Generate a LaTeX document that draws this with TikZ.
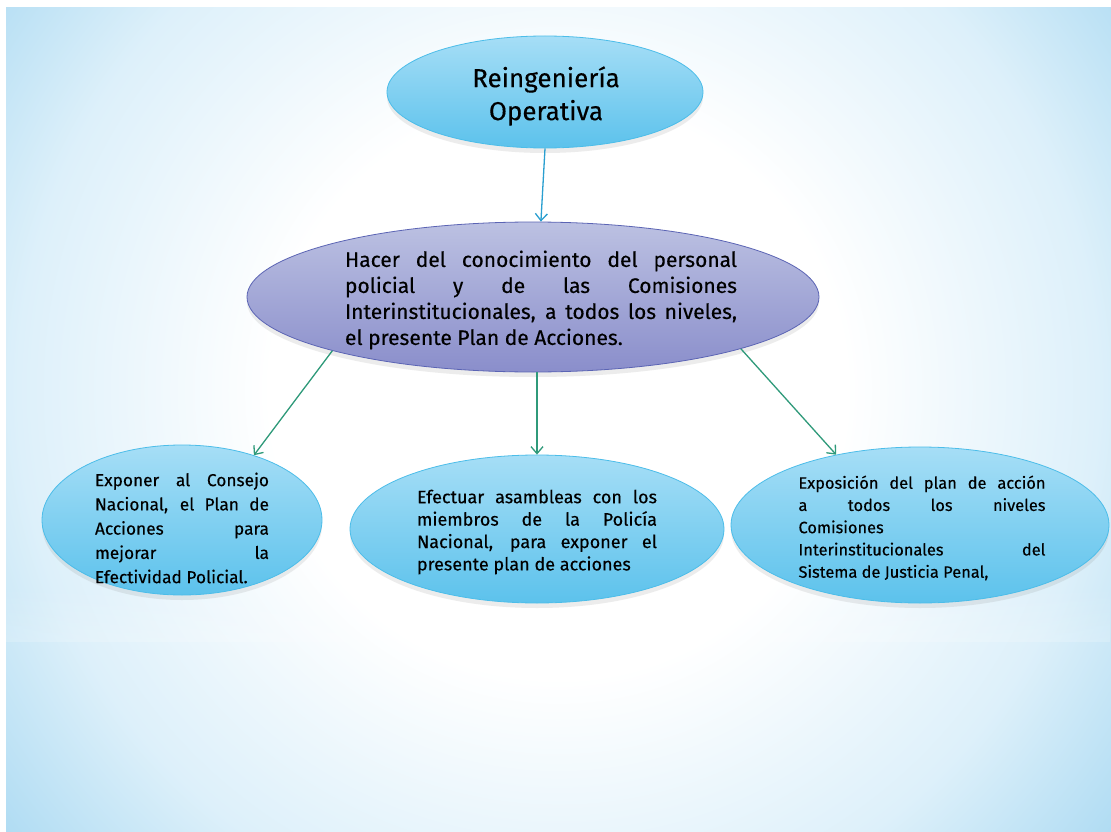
\documentclass[tikz,border=0pt]{standalone}
\usepackage{fontspec}
\setmainfont{Fira Sans}[FakeBold=0.3]
\usetikzlibrary{shapes.geometric,arrows.meta,shadows,fadings}
\definecolor{fondo}{HTML}{9ED4F0}
\definecolor{fondomedio}{HTML}{DDF0FA}
\definecolor{cielo}{HTML}{5CC2EC}
\definecolor{cieloclaro}{HTML}{A6DEF6}
\definecolor{cieloborde}{HTML}{4CBDE9}
\definecolor{lila}{HTML}{8A8ECB}
\definecolor{lilaclaro}{HTML}{BCC1E2}
\definecolor{lilaborde}{HTML}{5B64B4}
\definecolor{flechaazul}{HTML}{2A9FD0}
\definecolor{flechaverde}{HTML}{2F9A7A}
\pgfdeclareradialshading{diapositiva}{\pgfpoint{0bp}{0bp}}{color(0bp)=(white); color(8bp)=(white); color(15bp)=(fondomedio); color(21.5bp)=(fondo); color(50bp)=(fondo)}
\newcommand{\linea}[2]{\makebox[#1][s]{#2}}
\begin{document}
\begin{tikzpicture}[x=1pt, y=-1pt,
	burbuja/.style={ellipse, draw=cieloborde, line width=0.8pt, top color=cieloclaro, bottom color=cielo, inner sep=0pt, drop shadow={shadow xshift=0pt, shadow yshift=-5pt, opacity=0.15}},
	burbujalila/.style={burbuja, draw=lilaborde, top color=lilaclaro, bottom color=lila},
	texto/.style={inner sep=0pt, align=left, text=black},
	flecha/.style={line width=1.3pt, -{Straight Barb[length=7pt, width=12pt]}}]
	\useasboundingbox (0,0) rectangle (1111,832);
	\fill[white] (0,0) rectangle (1111,832);
	\begin{scope}
		\clip (6,8) rectangle (1111,832);
		\fill[shading=diapositiva] (-342,-510) rectangle (1458,1290);
		\fill[white, fill opacity=0.2, path fading=north] (6,585) rectangle (1111,642);
	\end{scope}
	\node[burbuja, minimum width=316pt, minimum height=112pt] (reing) at (545,92) {};
	\node[texto, align=center, font=\fontsize{26}{33}\selectfont] (reing-t) at (546,96) {Reingeniería\\Operativa};
	\node[burbujalila, minimum width=572pt, minimum height=150pt] (plan) at (533,297) {};
	\node[texto, font=\fontsize{21}{26}\selectfont] (plan-t) at (541,300) {\linea{392pt}{Hacer del conocimiento del personal}\\\linea{392pt}{policial y de las Comisiones}\\\linea{392pt}{Interinstitucionales, a todos los niveles,}\\el presente Plan de Acciones.};
	\node[burbuja, minimum width=280pt, minimum height=150pt] (expo) at (182,520) {};
	\node[texto, font=\fontsize{17.3}{24.25}\selectfont] (expo-t) at (182,528) {\linea{174pt}{Exponer al Consejo}\\\linea{174pt}{Nacional, el Plan de}\\\linea{174pt}{Acciones para}\\\linea{174pt}{mejorar la}\\Efectividad Policial.};
	\node[burbuja, minimum width=374pt, minimum height=148pt] (asamb) at (537,529) {};
	\node[texto, font=\fontsize{18}{22.4}\selectfont] (asamb-t) at (537,532) {\linea{240pt}{Efectuar asambleas con los}\\\linea{240pt}{miembros de la Policía}\\\linea{240pt}{Nacional, para exponer el}\\presente plan de acciones};
	\node[burbuja, minimum width=378pt, minimum height=156pt] (sistema) at (920,525) {};
	\node[texto, font=\fontsize{16.4}{22.25}\selectfont] (sistema-t) at (922,528) {\linea{247pt}{Exposición del plan de acción}\\\linea{247pt}{a todos los niveles}\\Comisiones\\\linea{247pt}{Interinstitucionales del}\\Sistema de Justicia Penal,};
	\draw[flecha, flechaazul] (reing.south) -- (plan.84);
	\draw[flecha, flechaverde] (plan.195) -- (expo.42);
	\draw[flecha, flechaverde] (asamb.north |- plan.south) -- (asamb.north);
	\draw[flecha, flechaverde] (plan.-14) -- (sistema.140);
\end{tikzpicture}
\end{document}
